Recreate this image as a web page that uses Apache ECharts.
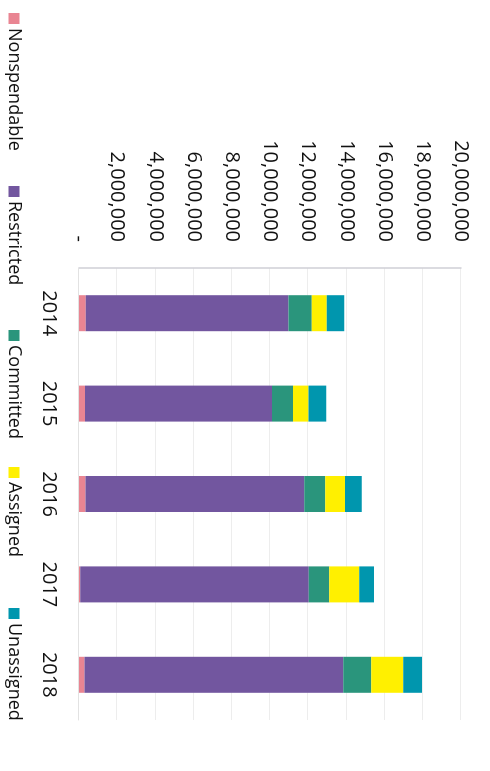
<!DOCTYPE html>
<html>
<head>
<meta charset="utf-8">
<script src="https://cdn.jsdelivr.net/npm/echarts@6/dist/echarts.min.js"></script>
<style>
html,body{margin:0;padding:0;width:490px;height:771px;overflow:hidden;background:#fff}
#c{position:absolute;left:0;top:0;width:771px;height:490px;transform-origin:0 0;transform:translate(490px,0) rotate(90deg)}
</style>
</head>
<body>
<div id="c"></div>
<script>
const categories = ['2014', '2015', '2016', '2017', '2018'];
const nonspendable = [350000, 310000, 340000, 60000, 290000];
const restricted = [10620000, 9800000, 11450000, 11970000, 13550000];
const committed = [1220000, 1100000, 1100000, 1070000, 1460000];
const assigned = [780000, 810000, 1040000, 1570000, 1670000];
const unassigned = [920000, 920000, 870000, 780000, 990000];
const seriesNames = ['Nonspendable', 'Restricted', 'Committed', 'Assigned', 'Unassigned'];
const colors = ['#e98592', '#72569f', '#2a957c', '#fff000', '#0096ae'];
const axisMin = 0, axisMax = 20000000, axisStep = 2000000;

const legendLeft = [13, 186, 330, 467, 608];

const chart = echarts.init(document.getElementById('c'));
const dataSets = [nonspendable, restricted, committed, assigned, unassigned];
chart.setOption({
  animation: false,
  color: colors,
  textStyle: { fontFamily: 'Open Sans' },
  legend: seriesNames.map((n, i) => ({
    data: [n],
    left: legendLeft[i],
    top: 467,
    padding: 0,
    itemWidth: 11,
    itemHeight: 11,
    icon: 'rect',
    textStyle: { fontSize: 18, color: '#111', fontFamily: 'Open Sans', padding: [0, 0, 0, -1] }
  })),
  grid: { left: 268, right: 51, top: 29, bottom: 79, containLabel: false },
  xAxis: {
    type: 'category',
    data: categories,
    axisLine: { show: true, lineStyle: { color: '#e2e2e2' } },
    axisTick: { show: false },
    axisLabel: { fontSize: 20, color: '#111', margin: 20, fontFamily: 'Open Sans' }
  },
  yAxis: {
    type: 'value',
    min: axisMin, max: axisMax, interval: axisStep,
    axisLine: { show: true, lineStyle: { color: '#cfcfd6', width: 1.5 } },
    axisTick: { show: false },
    splitLine: { show: true, lineStyle: { color: '#ededed' } },
    axisLabel: {
      fontSize: 20, color: '#111', margin: 26, fontFamily: 'Open Sans',
      formatter: v => v === 0 ? '-' : v.toLocaleString('en-US')
    }
  },
  series: seriesNames.map((n, i) => ({
    name: n,
    type: 'bar',
    stack: 'total',
    barWidth: 36,
    data: dataSets[i]
  }))
});
</script>
</body>
</html>
